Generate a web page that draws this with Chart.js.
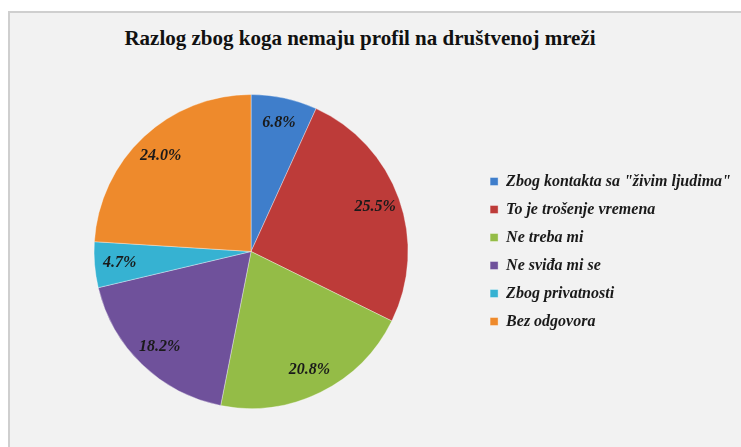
<!DOCTYPE html>
<html>
<head>
<meta charset="utf-8">
<script src="https://cdn.jsdelivr.net/npm/chart.js@4.4.1/dist/chart.umd.min.js"></script>
<style>
  html, body { margin: 0; padding: 0; background: #ffffff; }
  body { width: 741px; height: 447px; position: relative; overflow: hidden; }
  #frame { position: absolute; left: 8px; top: 11px; width: 760px; height: 460px;
           background: #f2f2f2; border: 2px solid #cfcfcf; box-sizing: border-box; }
  #title { position: absolute; left: 0; width: 720px; top: 26px; text-align: center;
           font-family: "Liberation Serif", serif; font-weight: bold;
           font-size: 21px; color: #111; }
  #wrap { position: absolute; left: 0; top: 0; width: 741px; height: 447px; }
</style>
</head>
<body>
<div id="frame"></div>
<div id="title">Razlog zbog koga nemaju profil na društvenoj mreži</div>
<div id="wrap"><canvas id="c"></canvas></div>
<script>
const categories = [
  'Zbog kontakta sa "živim ljudima"',
  'To je trošenje vremena',
  'Ne treba mi',
  'Ne sviđa mi se',
  'Zbog privatnosti',
  'Bez odgovora'
];
const percentages = [6.8, 25.5, 20.8, 18.2, 4.7, 24.0];
const sliceColors = ['#3f7ecb', '#bd3b39', '#94bc47', '#6f519b', '#36b2d2', '#ee8a2c'];

const SERIF = 'Liberation Serif';

const pctLabels = {
  id: 'pctLabels',
  afterDatasetsDraw(chart) {
    const ctx = chart.ctx;
    const meta = chart.getDatasetMeta(0);
    ctx.save();
    ctx.font = 'italic bold 16px "Liberation Serif", serif';
    ctx.fillStyle = '#1a1a1a';
    ctx.textAlign = 'center';
    ctx.textBaseline = 'middle';
    meta.data.forEach((arc, i) => {
      const p = arc.getProps(['x', 'y', 'startAngle', 'endAngle', 'outerRadius'], true);
      const mid = (p.startAngle + p.endAngle) / 2;
      const r = p.outerRadius * 0.84;
      ctx.fillText(percentages[i].toFixed(1) + '%', p.x + Math.cos(mid) * r, p.y + Math.sin(mid) * r);
    });
    ctx.restore();
  }
};

function draw() {
  new Chart(document.getElementById('c'), {
    type: 'pie',
    data: {
      labels: categories,
      datasets: [{
        data: percentages,
        backgroundColor: sliceColors,
        borderColor: 'rgba(255,255,255,0.35)',
        borderWidth: 1
      }]
    },
    options: {
      responsive: true,
      maintainAspectRatio: false,
      animation: false,
      layout: { padding: { left: 24, right: 0, top: 94, bottom: 38 } },
      plugins: {
        title: { display: false },
        tooltip: { enabled: false },
        legend: {
          position: 'right',
          align: 'center',
          labels: {
            boxWidth: 8,
            boxHeight: 8,
            padding: 12,
            color: '#1a1a1a',
            font: { family: SERIF, size: 16, style: 'italic', weight: 'bold' }
          }
        }
      }
    },
    plugins: [pctLabels]
  });
}

if (document.fonts && document.fonts.load) {
  Promise.all([
    document.fonts.load('italic bold 16px "Liberation Serif"'),
    document.fonts.load('bold 21px "Liberation Serif"')
  ]).then(draw, draw);
} else {
  draw();
}
</script>
</body>
</html>
